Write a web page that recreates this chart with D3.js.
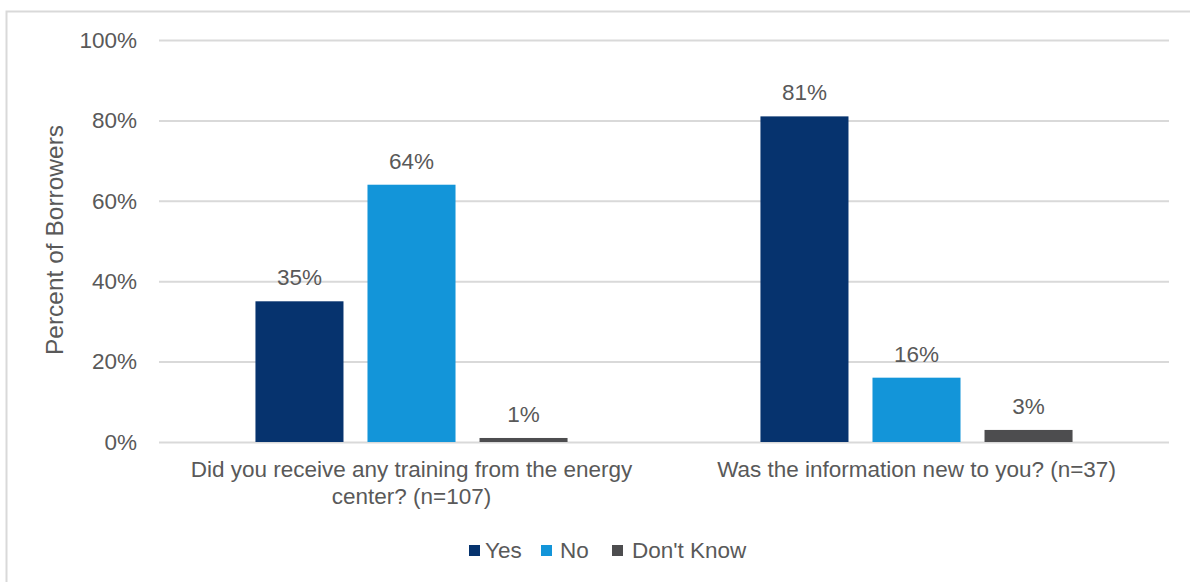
<!DOCTYPE html>
<html>
<head>
<meta charset="utf-8">
<script src="https://cdn.jsdelivr.net/npm/d3@7/dist/d3.min.js"></script>
<style>
  html, body { margin: 0; padding: 0; background: #fff; }
  svg text { font-family: "Liberation Sans", Arial, sans-serif; fill: #595959; }
</style>
</head>
<body>
<svg id="chart" width="1190" height="582"></svg>
<script>
// Survey questions (x categories), wrapped into lines for display
const questions = [
  "Did you receive any training from the energy center? (n=107)",
  "Was the information new to you? (n=37)"
];
const questionLines = [
  ["Did you receive any training from the energy", "center? (n=107)"],
  ["Was the information new to you? (n=37)"]
];
const responses = ["Yes", "No", "Don't Know"];
const yesValues = [35, 81];
const noValues = [64, 16];
const dontKnowValues = [1, 3];
const yTicks = [0, 20, 40, 60, 80, 100];
const colors = ["#06336E", "#1395D9", "#4D4D4F"];

const seriesValues = [yesValues, noValues, dontKnowValues];
const rows = questions.map((q, i) => ({
  question: q,
  values: responses.map((r, j) => ({ key: r, value: seriesValues[j][i] }))
}));

const svg = d3.select("#chart");
const fontSize = 22.5;

// chart frame
svg.append("rect")
  .attr("x", 6.5).attr("y", 11.5)
  .attr("width", 1200).attr("height", 600)
  .attr("fill", "none").attr("stroke", "#d9d9d9").attr("stroke-width", 2);

const plot = { left: 159, right: 1169, top: 40, bottom: 442 };

const y = d3.scaleLinear().domain([0, 100]).range([plot.bottom, plot.top]);
const x0 = d3.scaleBand().domain(questions).range([plot.left, plot.right]).padding(0);
const x1 = d3.scaleBand().domain(responses).range([0, x0.bandwidth()])
  .paddingInner(24 / 112).paddingOuter(0.861);
const color = d3.scaleOrdinal().domain(responses).range(colors);

// gridlines and y tick labels
const yAxis = d3.axisLeft(y).tickValues(yTicks)
  .tickSize(-(plot.right - plot.left)).tickPadding(22)
  .tickFormat(d => d + "%");
const yg = svg.append("g").attr("transform", `translate(${plot.left},0)`).call(yAxis);
yg.select(".domain").remove();
yg.selectAll(".tick line").attr("stroke", "#d9d9d9").attr("stroke-width", 2);
yg.selectAll(".tick text")
  .attr("font-size", fontSize)
  .style("font-family", "'Liberation Sans', Arial, sans-serif")
  .attr("fill", "#595959");

// y axis title
svg.append("text")
  .attr("transform", `translate(63,240) rotate(-90)`)
  .attr("text-anchor", "middle")
  .attr("font-size", 24.5)
  .text("Percent of Borrowers");

// bars
const groups = svg.append("g").selectAll("g")
  .data(rows).join("g")
  .attr("transform", d => `translate(${x0(d.question)},0)`);

groups.selectAll("rect")
  .data(d => d.values).join("rect")
  .attr("x", d => x1(d.key))
  .attr("y", d => y(d.value))
  .attr("width", x1.bandwidth())
  .attr("height", d => y(0) - y(d.value))
  .attr("fill", d => color(d.key));

// value labels
groups.selectAll("text.value")
  .data(d => d.values).join("text")
  .attr("class", "value")
  .attr("x", d => x1(d.key) + x1.bandwidth() / 2)
  .attr("y", d => y(d.value) - 16)
  .attr("text-anchor", "middle")
  .attr("font-size", fontSize)
  .text(d => d.value + "%");

// category labels
questions.forEach((q, i) => {
  const t = svg.append("text")
    .attr("x", x0(q) + x0.bandwidth() / 2)
    .attr("y", 477)
    .attr("text-anchor", "middle")
    .attr("font-size", fontSize);
  questionLines[i].forEach((line, k) => {
    t.append("tspan")
      .attr("x", x0(q) + x0.bandwidth() / 2)
      .attr("dy", k === 0 ? 0 : 27)
      .text(line);
  });
});

// legend
const legendX = [469, 541, 612];
const legendTextX = [485, 560, 632];
const legend = svg.append("g").selectAll("g")
  .data(responses).join("g")
  .attr("transform", (d, i) => `translate(${legendX[i]},545)`);
legend.append("rect")
  .attr("width", 11).attr("height", 11)
  .attr("fill", d => color(d));
legend.append("text")
  .attr("x", (d, i) => legendTextX[i] - legendX[i])
  .attr("y", 13)
  .attr("font-size", fontSize)
  .text(d => d);
</script>
</body>
</html>
